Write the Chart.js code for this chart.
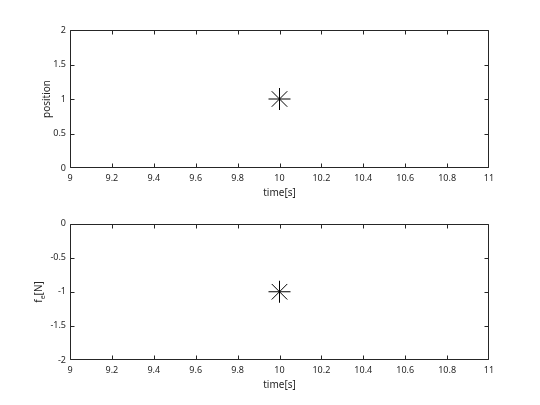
<!DOCTYPE html>
<html><head><meta charset="utf-8">
<script src="https://cdn.jsdelivr.net/npm/chart.js@4.4.0/dist/chart.umd.min.js"></script>
<style>
html,body{margin:0;padding:0;background:#fff;}
#wrap{position:relative;width:540px;height:405px;background:#fff;}
.pane{position:absolute;left:0;width:540px;}
</style></head><body>
<div id="wrap">
<div class="pane" style="top:0;height:203px"><canvas id="c1" width="540" height="203"></canvas></div>
<div class="pane" style="top:210px;height:195px"><canvas id="c2" width="540" height="195"></canvas></div>
</div>
<script>
// ---- data ----
const time = [10];
const position = [1];
const force = [-1];
const timeTicks = [9, 9.2, 9.4, 9.6, 9.8, 10, 10.2, 10.4, 10.6, 10.8, 11];
const timeTickLabels = ['9', '9.2', '9.4', '9.6', '9.8', '10', '10.2', '10.4', '10.6', '10.8', '11'];
const positionTicks = [0, 0.5, 1, 1.5, 2];
const positionTickLabels = ['0', '0.5', '1', '1.5', '2'];
const forceTicks = [-2, -1.5, -1, -0.5, 0];
const forceTickLabels = ['-2', '-1.5', '-1', '-0.5', '0'];

const AX = '#262626';
const FONT = 'Noto Sans';

const boxPlugin = {
  id: 'matlabBox',
  afterDraw(chart) {
    const {ctx, chartArea: a, scales: {x, y}} = chart;
    ctx.save();
    ctx.strokeStyle = AX;
    ctx.lineWidth = 1;
    const L = Math.round(a.left) + 0.5, R = Math.round(a.right) - 0.5;
    const T = Math.round(a.top) + 0.5, B = Math.round(a.bottom) - 0.5;
    ctx.beginPath();
    ctx.rect(L, T, R - L, B - T);
    const tl = 4;
    x.ticks.forEach(t => {
      const px = Math.min(R, Math.max(L, Math.round(x.getPixelForValue(t.value)) + 0.5));
      ctx.moveTo(px, B); ctx.lineTo(px, B - tl);
      ctx.moveTo(px, T); ctx.lineTo(px, T + tl);
    });
    y.ticks.forEach(t => {
      const py = Math.min(B, Math.max(T, Math.round(y.getPixelForValue(t.value)) + 0.5));
      ctx.moveTo(L, py); ctx.lineTo(L + tl, py);
      ctx.moveTo(R, py); ctx.lineTo(R - tl, py);
    });
    ctx.stroke();
    ctx.restore();
  }
};

const subLabelPlugin = {
  id: 'subLabel',
  afterDraw(chart, args, opts) {
    if (!opts || !opts.main) return;
    const {ctx} = chart;
    ctx.save();
    ctx.fillStyle = AX;
    ctx.translate(opts.x, opts.y);
    ctx.rotate(-Math.PI / 2);
    const big = '10px "' + FONT + '"', small = '7px "' + FONT + '"';
    ctx.font = big; const w1 = ctx.measureText(opts.main).width; const w3 = ctx.measureText(opts.rest).width;
    ctx.font = small; const w2 = ctx.measureText(opts.sub).width;
    let cx = -(w1 + w2 + w3) / 2;
    ctx.textBaseline = 'alphabetic';
    ctx.textAlign = 'left';
    ctx.font = big; ctx.fillText(opts.main, cx, 3.5); cx += w1;
    ctx.font = small; ctx.fillText(opts.sub, cx, 6.5); cx += w2;
    ctx.font = big; ctx.fillText(opts.rest, cx, 3.5);
    ctx.restore();
  }
};

function makeChart(id, yVals, yTicks, yLabels, yMin, yMax, yTitle, padding, yWidth, sub) {
  return new Chart(document.getElementById(id), {
    type: 'scatter',
    data: {
      datasets: [{
        data: time.map((t, i) => ({x: t, y: yVals[i]})),
        pointStyle: 'star',
        pointRadius: 11,
        pointHoverRadius: 11,
        borderColor: '#000',
        backgroundColor: '#000',
        borderWidth: 1,
        showLine: false
      }]
    },
    options: {
      responsive: false,
      animation: false,
      events: [],
      layout: {padding: padding},
      plugins: {legend: {display: false}, tooltip: {enabled: false}, subLabel: sub || {}},
      scales: {
        x: {
          type: 'linear', min: 9, max: 11,
          afterBuildTicks: s => { s.ticks = timeTicks.map(v => ({value: v})); },
          afterFit: s => { s.height = 35; },
          grid: {display: false, drawTicks: false},
          border: {display: false},
          ticks: {
            color: AX, padding: 5, maxRotation: 0, autoSkip: false,
            font: {family: FONT, size: 9},
            callback: (v, i) => timeTickLabels[i]
          },
          title: {display: true, text: 'time[s]', color: AX, font: {family: FONT, size: 10}, padding: {top: 4, bottom: 4}}
        },
        y: {
          type: 'linear', min: yMin, max: yMax,
          afterBuildTicks: s => { s.ticks = yTicks.map(v => ({value: v})); },
          afterFit: s => { s.width = yWidth; },
          grid: {display: false, drawTicks: false},
          border: {display: false},
          ticks: {
            color: AX, padding: 4, autoSkip: false,
            font: {family: FONT, size: 9},
            callback: (v, i) => yLabels[i]
          },
          title: {display: !!yTitle, text: yTitle, color: AX, font: {family: FONT, size: 10}, padding: {top: 4, bottom: 4}}
        }
      }
    },
    plugins: [boxPlugin, subLabelPlugin]
  });
}

makeChart('c1', position, positionTicks, positionTickLabels, 0, 2, 'position',
  {left: 37, right: 51, top: 30, bottom: 0}, 33, null);
makeChart('c2', force, forceTicks, forceTickLabels, -2, 0, '',
  {left: 0, right: 51, top: 13.5, bottom: 10}, 70,
  {main: 'f', sub: 'e', rest: '[N]', x: 38, y: 82});
</script>
</body></html>
